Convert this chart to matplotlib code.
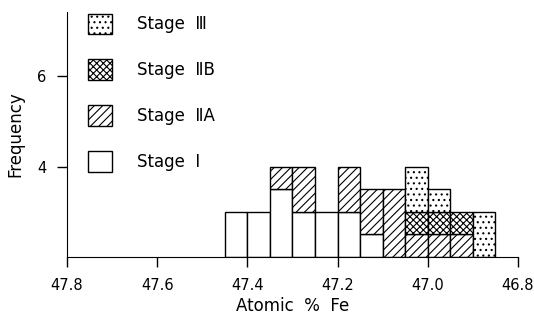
import matplotlib
matplotlib.use("Agg")
import matplotlib.pyplot as plt
import numpy as np

plt.rcParams['font.family'] = ['DejaVu Sans']
plt.rcParams['hatch.linewidth'] = 0.8

# bin left edges (atomic % Fe), bin width 0.05
bin_edges = [47.45, 47.40, 47.35, 47.30, 47.25, 47.20, 47.15, 47.10, 47.05, 47.00, 46.95, 46.90]
bin_width = 0.05
baseline = 2.0
stage_I   = [1.0, 1.0, 1.5, 1.0, 1.0, 1.0, 0.5, 0.0, 0.0, 0.0, 0.0, 0.0]
stage_IIA = [0.0, 0.0, 0.5, 1.0, 0.0, 1.0, 1.0, 1.5, 0.5, 0.5, 0.5, 0.0]
stage_IIB = [0.0, 0.0, 0.0, 0.0, 0.0, 0.0, 0.0, 0.0, 0.5, 0.5, 0.5, 0.0]
stage_III = [0.0, 0.0, 0.0, 0.0, 0.0, 0.0, 0.0, 0.0, 1.0, 0.5, 0.0, 1.0]

labels = ["Stage  Ⅲ", "Stage  ⅡB", "Stage  ⅡA", "Stage  Ⅰ"]
xticks = [47.8, 47.6, 47.4, 47.2, 47.0, 46.8]
xticklabels = ["47.8", "47.6", "47.4", "47.2", "47.0", "46.8"]
yticks = [4, 6]

fig = plt.figure(figsize=(5.34, 3.25), dpi=100)
ax = fig.add_axes([0.1255, 0.209, 0.8445, 0.754])

series = [stage_I, stage_IIA, stage_IIB, stage_III]
hatches = ['', '////', 'xxxxx', '...']
bottom = np.full(len(bin_edges), baseline)
handles = []
for vals, h in zip(series, hatches):
    vals = np.array(vals)
    mask = vals > 0
    bars = ax.bar(np.array(bin_edges)[mask], vals[mask], width=-bin_width, align='edge',
                  bottom=bottom[mask], facecolor='white', edgecolor='black',
                  hatch=h, linewidth=1.0)
    handles.append(bars)
    bottom = bottom + vals

leg_handles = [handles[3], handles[2], handles[1], handles[0]]
leg = ax.legend(leg_handles, labels, loc='upper left', bbox_to_anchor=(0.013, 1.055),
                frameon=False, fontsize=12, handlelength=1.45, handleheight=1.55,
                labelspacing=1.5, handletextpad=1.5)

ax.set_xlim(47.8, 46.8)
ax.set_ylim(2, 7.42)
ax.set_xticks(xticks)
ax.set_xticklabels(xticklabels, fontsize=10.5)
ax.set_yticks(yticks)
ax.set_yticklabels([str(t) for t in yticks], fontsize=10.5)
ax.tick_params(direction='out', length=7, width=1.0, pad=8)
for s in ['top', 'right']:
    ax.spines[s].set_visible(False)
ax.set_xlabel("Atomic  %  Fe", fontsize=12, labelpad=3)
ax.set_ylabel("Frequency", fontsize=12, labelpad=9)

fig.savefig("out.png", dpi=100)
